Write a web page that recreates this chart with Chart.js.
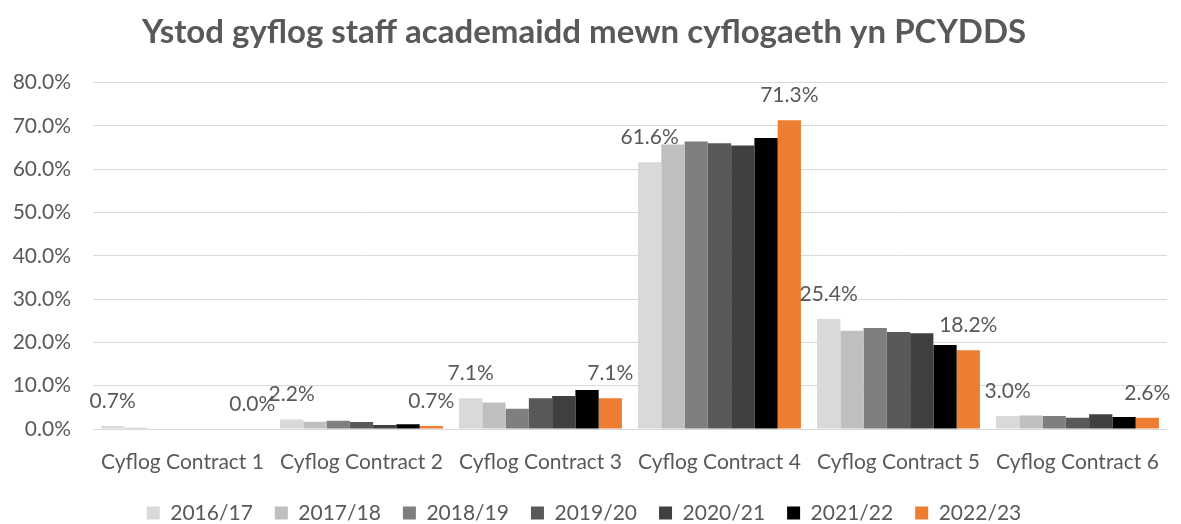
<!DOCTYPE html>
<html>
<head>
<meta charset="utf-8">
<script src="https://cdn.jsdelivr.net/npm/chart.js@4.4.1/dist/chart.umd.min.js"></script>
<style>
  html, body { margin: 0; padding: 0; background: #fff; }
  #wrap { width: 1181px; height: 524px; }
</style>
</head>
<body>
<div id="wrap"><canvas id="payChart" width="1181" height="524"></canvas></div>
<script>
// Categories and series (percent of academic staff per pay contract)
const categories = ['Cyflog Contract 1', 'Cyflog Contract 2', 'Cyflog Contract 3', 'Cyflog Contract 4', 'Cyflog Contract 5', 'Cyflog Contract 6'];
const years = ['2016/17', '2017/18', '2018/19', '2019/20', '2020/21', '2021/22', '2022/23'];

const y1617 = [0.7, 2.2, 7.1, 61.6, 25.4, 3.0];
const y1718 = [0.3, 1.7, 6.1, 65.7, 22.7, 3.1];
const y1819 = [0.0, 1.9, 4.7, 66.4, 23.3, 3.0];
const y1920 = [0.0, 1.6, 7.1, 66.0, 22.4, 2.6];
const y2021 = [0.0, 0.9, 7.6, 65.5, 22.1, 3.4];
const y2122 = [0.0, 1.1, 9.0, 67.2, 19.4, 2.8];
const y2223 = [0.0, 0.7, 7.1, 71.3, 18.2, 2.6];

const yTicks = [0, 10, 20, 30, 40, 50, 60, 70, 80];

// only the first and last year get value labels
const labelledSeries = [0, 6];

const seriesValues = [y1617, y1718, y1819, y1920, y2021, y2122, y2223];
const seriesColors = ['#d9d9d9', '#bfbfbf', '#7f7f7f', '#595959', '#404040', '#000000', '#ed7d31'];

const FONT = 'Lato, "Open Sans", sans-serif';
const TEXT = '#595959';

// Draw the value labels above the bars
const valueLabels = {
  id: 'valueLabels',
  afterDatasetsDraw(chart) {
    const ctx = chart.ctx;
    ctx.save();
    ctx.font = '21px ' + FONT;
    ctx.fillStyle = TEXT;
    ctx.textAlign = 'center';
    ctx.textBaseline = 'middle';
    labelledSeries.forEach(di => {
      const meta = chart.getDatasetMeta(di);
      meta.data.forEach((bar, i) => {
        const v = chart.data.datasets[di].data[i];
        ctx.fillText(v.toFixed(1) + '%', bar.x, bar.y - 25);
      });
    });
    ctx.restore();
  }
};

const ctx = document.getElementById('payChart').getContext('2d');
const chart = new Chart(ctx, {
  type: 'bar',
  data: {
    labels: categories,
    datasets: years.map((yr, i) => ({
      label: yr,
      data: seriesValues[i],
      backgroundColor: seriesColors[i],
      borderWidth: 0,
      categoryPercentage: 0.91,
      barPercentage: 1.0
    }))
  },
  options: {
    responsive: false,
    animation: false,
    layout: {
      padding: { left: 0, right: 13, top: 0, bottom: -9.5 }
    },
    plugins: {
      title: {
        display: true,
        text: 'Ystod gyflog staff academaidd mewn cyflogaeth yn PCYDDS',
        color: TEXT,
        font: { family: FONT, size: 33, weight: 'bold' },
        padding: { top: 13, bottom: 30 }
      },
      legend: {
        position: 'bottom',
        labels: {
          color: TEXT,
          font: { family: FONT, size: 21 },
          boxWidth: 13,
          boxHeight: 13,
          padding: 22
        }
      },
      tooltip: { enabled: false }
    },
    scales: {
      x: {
        afterFit(scale) { scale.height = 51.5; },
        grid: { display: false, drawTicks: false },
        border: { display: true, color: '#d9d9d9', width: 1 },
        ticks: {
          color: TEXT,
          font: { family: FONT, size: 21 },
          padding: 21,
          maxRotation: 0,
          autoSkip: false
        }
      },
      y: {
        min: 0,
        max: 80,
        afterFit(scale) { scale.width = 93; },
        afterBuildTicks(scale) { scale.ticks = yTicks.map(v => ({ value: v })); },
        grid: { color: '#d9d9d9', lineWidth: 1, drawTicks: false },
        border: { display: false },
        ticks: {
          color: TEXT,
          font: { family: FONT, size: 21 },
          padding: 22,
          callback: v => v.toFixed(1) + '%'
        }
      }
    }
  },
  plugins: [valueLabels]
});
</script>
</body>
</html>
